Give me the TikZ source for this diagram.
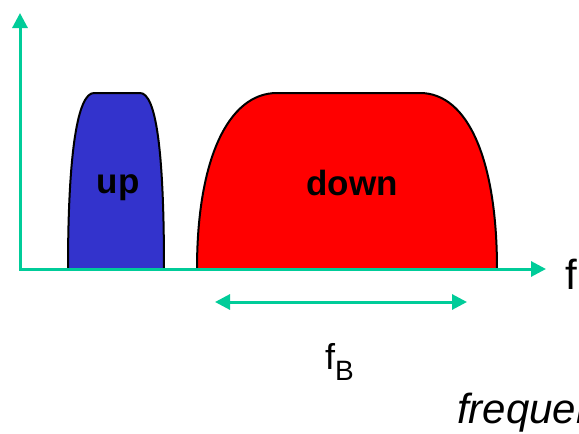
\documentclass[tikz,border=0pt]{standalone}
\usepackage{fontspec}
\setmainfont{Liberation Sans}
\usetikzlibrary{arrows.meta}
\definecolor{axisgreen}{HTML}{00CC99}
\definecolor{upblue}{HTML}{3333CC}
\definecolor{downred}{HTML}{FF0000}
\tikzset{
  tri/.tip={Triangle[length=15pt,width=15pt]},
  axisline/.style={draw=axisgreen,line width=3pt},
  bandedge/.style={draw=black,line width=2pt},
  bandlabel/.style={font=\bfseries\fontsize{35}{40}\selectfont,anchor=base,inner sep=0pt},
  plainlabel/.style={font=\fontsize{34}{40}\selectfont,anchor=base west,inner sep=0pt}
}
\begin{document}
\begin{tikzpicture}[x=1pt,y=-1pt]
\useasboundingbox (0,0) rectangle (579,434);
\fill[white] (0,0) rectangle (579,434);
% up band
\fill[upblue] (68,269) .. controls (68,150) and (78,93) .. (94,93) -- (140,93) .. controls (156,93) and (164,150) .. (164,269) -- cycle;
\draw[bandedge] (68,269) .. controls (68,150) and (78,93) .. (94,93) -- (140,93) .. controls (156,93) and (164,150) .. (164,269);
% down band
\fill[downred] (197,269) .. controls (197,160) and (228,93) .. (277,93) -- (420,93) .. controls (468,93) and (497,160) .. (497,269) -- cycle;
\draw[bandedge] (197,269) .. controls (197,160) and (228,93) .. (277,93) -- (420,93) .. controls (468,93) and (497,160) .. (497,269);
% axes
\coordinate (O) at (20,269);
\coordinate (Ytip) at (20,13);
\coordinate (Xtip) at (546,269);
\draw[axisline,{tri}-{tri}] (Ytip) -- (O) -- (Xtip);
% bandwidth arrow
\coordinate (BL) at (215,302);
\coordinate (BR) at (467,302);
\draw[axisline,{tri}-{tri}] (BL) -- (BR);
% labels
\node[bandlabel] (up) at (118,193) {up};
\node[bandlabel] (down) at (352,195) {down};
\node[plainlabel,font=\fontsize{42}{48}\selectfont] (f) at (565,289) {f};
\node[plainlabel,font=\fontsize{36}{40}\selectfont] (fB) at (325,369) {f\raisebox{-11pt}{\fontsize{28}{32}\selectfont B}};
\node[plainlabel,font=\itshape\fontsize{42}{48}\selectfont] (freq) at (457,423) {frequency};
\end{tikzpicture}
\end{document}
